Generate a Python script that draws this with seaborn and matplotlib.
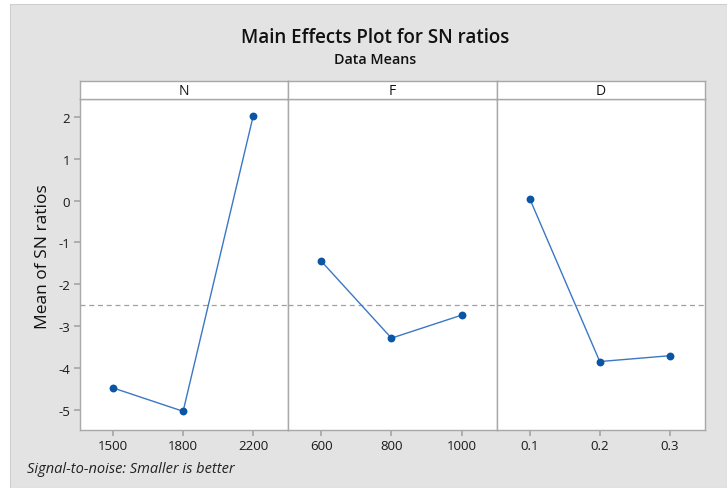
import numpy as np
import pandas as pd
import matplotlib
matplotlib.use("Agg")
import matplotlib.pyplot as plt
import seaborn as sns
from matplotlib.patches import Rectangle

# values
factors = ["N", "F", "D"]
n_levels = ["1500", "1800", "2200"]
n_sn = [-4.48, -5.04, 2.03]
f_levels = ["600", "800", "1000"]
f_sn = [-1.45, -3.29, -2.74]
d_levels = ["0.1", "0.2", "0.3"]
d_sn = [0.05, -3.85, -3.71]
yticks = [-5, -4, -3, -2, -1, 0, 1, 2]

df = pd.DataFrame({
    "factor": ["N"] * 3 + ["F"] * 3 + ["D"] * 3,
    "level": n_levels + f_levels + d_levels,
    "sn": n_sn + f_sn + d_sn,
})
grand_mean = df["sn"].mean()

sns.set_theme(style="white")
plt.rcParams["font.family"] = ["Open Sans", "DejaVu Sans"]

fig = plt.figure(figsize=(7.27, 4.89), dpi=100, facecolor="white")
W, H = 727, 489
fig.patches.append(Rectangle((10 / W, 0), 1 - 10 / W, 1 - 5 / H, transform=fig.transFigure,
                             facecolor="#e3e3e3", edgecolor="#cfcfcf", lw=0.8, zorder=-10))

left, right, bottom, top = 80 / W, 705 / W, 1 - 430.7 / H, 1 - 100 / H
strip_h = 18 / H
pw = (right - left) / 3
line_col = "#3a78c4"
dot_col = "#0b55a5"
edge = "#a8a8a8"

for i, fac in enumerate(factors):
    sub = df[df["factor"] == fac]
    ax = fig.add_axes([left + i * pw, bottom, pw, top - bottom])
    ax.set_facecolor("white")
    sns.pointplot(data=sub, x="level", y="sn", ax=ax, color=line_col,
                  markers="o", linestyles="-", linewidth=1.0, markersize=0)
    sns.scatterplot(data=sub, x="level", y="sn", ax=ax, color=dot_col,
                    s=32, edgecolor=dot_col, linewidth=0, zorder=5)
    ax.axhline(grand_mean, color="#a0a0a0", lw=0.9, ls=(0, (4, 3)), zorder=1)
    ax.set_xlim(-0.47, 2.5)
    ax.set_ylim(-5.48, 2.43)
    ax.set_xlabel("")
    ax.set_ylabel("")
    for s in ax.spines.values():
        s.set_color(edge)
        s.set_linewidth(1.0)
    ax.tick_params(axis="x", bottom=True, length=4, color=edge, labelsize=9.5,
                   labelcolor="#1a1a1a", pad=3)
    if i == 0:
        ax.set_yticks(yticks)
        ax.set_yticklabels([str(t) for t in yticks])
        ax.tick_params(axis="y", left=True, length=4, color=edge, labelsize=9.5,
                       labelcolor="#1a1a1a", pad=3)
        ax.set_ylabel("Mean of SN ratios", fontsize=12.5, color="#111111")
        ax.yaxis.set_label_coords(-0.14, 0.525)
    else:
        ax.set_yticks(yticks)
        ax.tick_params(axis="y", left=False, labelleft=False)
    # strip header
    sax = fig.add_axes([left + i * pw, top, pw, strip_h])
    sax.set_facecolor("white")
    sax.set_xticks([])
    sax.set_yticks([])
    for s in sax.spines.values():
        s.set_color(edge)
        s.set_linewidth(1.0)
    sax.text(0.5, 0.45, fac, ha="center", va="center", fontsize=10, color="#111111",
             transform=sax.transAxes)

fig.text(375 / W, 1 - 38 / H, "Main Effects Plot for SN ratios", ha="center", va="center",
         fontsize=13.5, fontweight="semibold", color="#111111")
fig.text(375 / W, 1 - 60 / H, "Data Means", ha="center", va="center",
         fontsize=10.3, fontweight="semibold", color="#111111")
fig.text(27 / W, 1 - 470 / H, "Signal-to-noise: Smaller is better", ha="left", va="center",
         fontsize=10.5, style="italic", color="#222222")

fig.savefig("out.png", dpi=100, facecolor=fig.get_facecolor())
